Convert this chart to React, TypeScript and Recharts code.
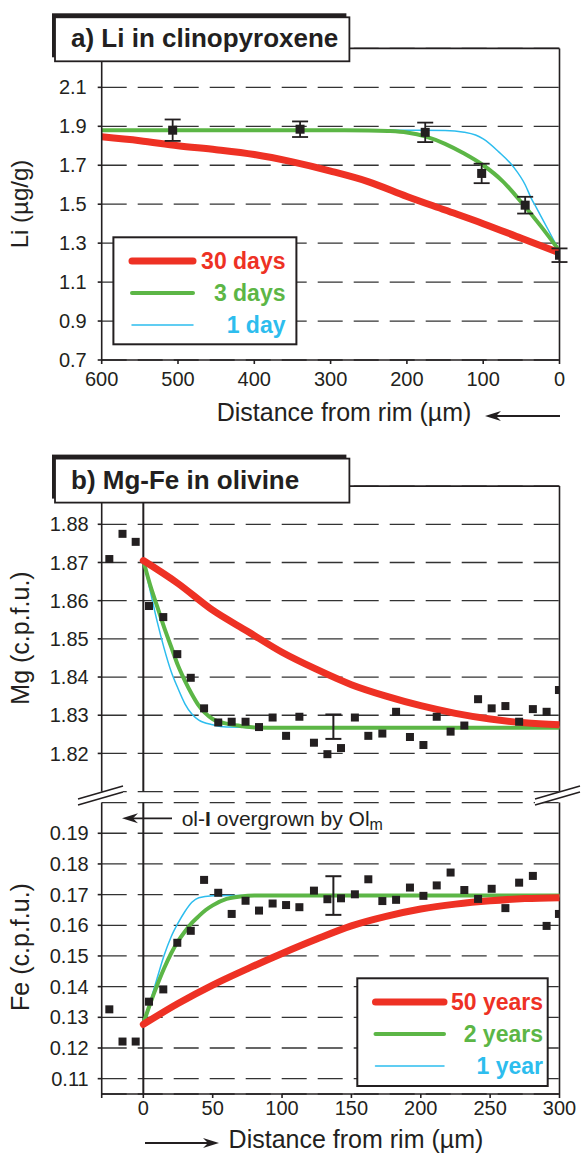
import React from "react";
import { ComposedChart, Line, Scatter, XAxis, YAxis, CartesianGrid, ReferenceLine, ErrorBar } from "recharts";

const INK = "#231f20";
const RED = "#ee3124";
const GREEN = "#5cb646";
const BLUE = "#2dbdee";
const FONT = "'Liberation Sans', Arial, Helvetica, sans-serif";

// ---- a) Li in clinopyroxene ----
const liTicksX = [0, 100, 200, 300, 400, 500, 600];
const liTicksY = [0.7, 0.9, 1.1, 1.3, 1.5, 1.7, 1.9, 2.1];
const liDist = [507, 340, 176, 102, 45, 0];
const liValue = [1.88, 1.885, 1.869, 1.658, 1.495, 1.238];
const liError = [0.055, 0.04, 0.05, 0.05, 0.043, 0.035];

const li30dDist = [600, 550, 500, 450, 400, 350, 300, 250, 200, 150, 100, 50, 0];
const li30dValue = [1.846, 1.826, 1.8, 1.78, 1.755, 1.717, 1.67, 1.615, 1.54, 1.47, 1.4, 1.325, 1.25];
const li3dDist = [600, 500, 400, 300, 250, 225, 200, 175, 150, 125, 100, 75, 50, 25, 0];
const li3dValue = [1.88, 1.88, 1.88, 1.88, 1.879, 1.876, 1.868, 1.847, 1.81, 1.76, 1.7, 1.62, 1.51, 1.39, 1.26];
const li1dDist = [600, 400, 200, 150, 125, 110, 100, 80, 60, 45, 37, 30, 15, 0];
const li1dValue = [1.88, 1.88, 1.88, 1.879, 1.87, 1.855, 1.835, 1.77, 1.69, 1.6, 1.53, 1.48, 1.37, 1.26];

// ---- b) Mg-Fe in olivine ----
const olTicksX = [-30, 0, 50, 100, 150, 200, 250, 300];
const mgTicks = [1.82, 1.83, 1.84, 1.85, 1.86, 1.87, 1.88];
const feTicks = [0.11, 0.12, 0.13, 0.14, 0.15, 0.16, 0.17, 0.18, 0.19];

const olDist = [-24.5, -15, -5.5, 4.1, 14.4, 24.5, 34.2, 43.8, 54, 63.7, 73.7, 83.4, 93.2, 102.9, 112.5, 123, 132.7,
  142.5, 152.5, 162.2, 172.3, 182.2, 192.2, 201.9, 211.5, 221.5, 231.4, 241.3, 251.1, 261, 270.9, 280.8, 290.7, 299.6];
const mgValue = [1.8709, 1.8775, 1.8754, 1.8586, 1.8557, 1.846, 1.8398, 1.8318, 1.8281, 1.8283, 1.8283, 1.8269, 1.8294,
  1.8246, 1.8296, 1.8228, 1.8198, 1.8214, 1.8294, 1.8246, 1.8252, 1.8309, 1.8243, 1.8222, 1.8296, 1.8257, 1.8273,
  1.8342, 1.8318, 1.8324, 1.8283, 1.8316, 1.8309, 1.8366];
const feValue = [0.1326, 0.1221, 0.1221, 0.1351, 0.1391, 0.1543, 0.1582, 0.1748, 0.1706, 0.1637, 0.168, 0.1648, 0.1671,
  0.1666, 0.1659, 0.1713, 0.1685, 0.1688, 0.1701, 0.175, 0.1679, 0.1683, 0.1723, 0.1696, 0.173, 0.1772, 0.1715,
  0.1686, 0.1719, 0.1656, 0.1739, 0.1761, 0.1598, 0.1637];
const mgErrBar = { d: 137, v: 1.827, e: 0.0032 };
const feErrBar = { d: 137, v: 0.1697, e: 0.0063 };

const mg50yDist = [0, 25, 50, 75, 100, 125, 150, 175, 200, 225, 250, 275, 300];
const mg50yValue = [1.8705, 1.8645, 1.8575, 1.852, 1.8465, 1.842, 1.838, 1.835, 1.8325, 1.8305, 1.829, 1.828, 1.8275];
const mg2yDist = [0, 5, 10, 15, 20, 25, 30, 35, 40, 50, 60, 70, 80, 100, 150, 200, 250, 300];
const mg2yValue = [1.8705, 1.864, 1.8585, 1.853, 1.848, 1.843, 1.839, 1.8355, 1.8325, 1.829, 1.8278, 1.8272, 1.8268,
  1.8267, 1.8267, 1.8267, 1.8267, 1.8267];
const mg1yDist = [0, 5, 10, 15, 20, 25, 30, 35, 40, 50, 60, 100, 150, 200, 250, 300];
const mg1yValue = [1.8705, 1.8625, 1.8545, 1.8475, 1.8415, 1.837, 1.833, 1.8303, 1.8287, 1.8275, 1.8269, 1.8267,
  1.8267, 1.8267, 1.8267, 1.8267];

const fe50yDist = [0, 25, 50, 75, 100, 125, 150, 175, 200, 225, 250, 275, 300];
const fe50yValue = [0.1277, 0.1345, 0.1405, 0.1458, 0.1508, 0.1555, 0.1598, 0.1629, 0.1653, 0.1669, 0.168, 0.1687, 0.169];
const fe2yDist = [0, 5, 10, 15, 20, 25, 30, 35, 40, 45, 50, 60, 70, 80, 100, 150, 200, 250, 300];
const fe2yValue = [0.128, 0.1345, 0.1405, 0.146, 0.1508, 0.1548, 0.158, 0.1608, 0.163, 0.165, 0.1665, 0.1686, 0.1694,
  0.1697, 0.1697, 0.1697, 0.1697, 0.1697, 0.1697];
const fe1yDist = [0, 5, 10, 15, 20, 25, 30, 35, 40, 50, 60, 100, 150, 200, 250, 300];
const fe1yValue = [0.128, 0.1352, 0.1428, 0.1502, 0.1562, 0.1607, 0.1645, 0.1675, 0.169, 0.1696, 0.1697, 0.1697,
  0.1697, 0.1697, 0.1697, 0.1697];

const liNames = ["30 days", "3 days", "1 day"];
const olNames = ["50 years", "2 years", "1 year"];
const seriesColors = [RED, GREEN, BLUE];
const seriesWidths = [7, 4, 1.5];

const zip = (xs: number[], ys: number[]) => xs.map((d, i) => ({ d, v: ys[i] }));

const axisStyle = { stroke: INK, strokeWidth: 1.6 };
const tickStyle = { fontSize: 20, fill: INK, fontFamily: FONT };

const square = (size: number) => (p: any) => (
  <rect x={p.cx - size / 2} y={p.cy - size / 2} width={size} height={size} fill={INK} />
);

function curve(data: { d: number; v: number }[], i: number) {
  return (
    <Line
      data={data}
      type="monotone"
      dataKey="v"
      stroke={seriesColors[i]}
      strokeWidth={seriesWidths[i]}
      strokeLinecap="round"
      dot={false}
      activeDot={false}
      isAnimationActive={false}
    />
  );
}

function LegendBox({ x, y, w, h, names, lx1, lx2, tx }: any) {
  return (
    <g>
      <rect x={x} y={y} width={w} height={h} fill="#fff" stroke={INK} strokeWidth={2} />
      {names.map((n: string, i: number) => (
        <g key={n}>
          <line x1={lx1} x2={lx2} y1={y + 23.7 + i * 32} y2={y + 23.7 + i * 32} stroke={seriesColors[i]}
            strokeWidth={seriesWidths[i]} strokeLinecap="round" />
          <text x={tx} y={y + 23.7 + i * 32} dy="0.36em" textAnchor="end" fontWeight="bold" fontSize={23}
            fill={seriesColors[i]}>{n}</text>
        </g>
      ))}
    </g>
  );
}

function TitleBox({ x, y, label }: { x: number; y: number; label: string }) {
  return (
    <g>
      <rect x={x - 3} y={y - 4} width={294.4} height={44} fill={INK} />
      <rect x={x} y={y} width={294.4} height={44} fill="#fff" stroke={INK} strokeWidth={1.8} />
      <text x={x + 16} y={y + 30} fontWeight="bold" fontSize={26} fill={INK}>{label}</text>
    </g>
  );
}

function Arrow({ x1, x2, y }: { x1: number; x2: number; y: number }) {
  // x2 is the tip
  const dir = x2 > x1 ? 1 : -1;
  return (
    <g>
      <line x1={x1} x2={x2 - dir * 8} y1={y} y2={y} stroke={INK} strokeWidth={1.8} />
      <polygon points={`${x2},${y} ${x2 - dir * 16},${y - 5} ${x2 - dir * 11},${y} ${x2 - dir * 16},${y + 5}`} fill={INK} />
    </g>
  );
}

function BreakMark({ x }: { x: number }) {
  return (
    <g>
      <polygon points={`${x},${799} ${x + 45},${786} ${x + 45},${792} ${x},${805}`} fill="#fff" />
      <line x1={x} y1={799} x2={x + 45} y2={786} stroke={INK} strokeWidth={1.5} />
      <line x1={x} y1={805} x2={x + 45} y2={792} stroke={INK} strokeWidth={1.5} />
    </g>
  );
}

const layer: React.CSSProperties = { position: "absolute", left: 0, top: 0 };

export default function App() {
  const liPoints = liDist.map((d, i) => ({ d, v: liValue[i], e: liError[i] }));
  const mgPoints = zip(olDist, mgValue);
  const fePoints = zip(olDist, feValue);

  return (
    <div style={{ position: "absolute", left: 0, top: 0, width: 581, height: 1153, background: "#fff", fontFamily: FONT, overflow: "hidden" }}>
      {/* a) Li */}
      <div style={layer}>
        <ComposedChart width={581} height={440} margin={{ top: 48.4, right: 21.5, bottom: 50, left: 41.7 }}>
          <CartesianGrid vertical={false} stroke="#333" strokeWidth={1.3} strokeDasharray="25 11" />
          <XAxis type="number" dataKey="d" domain={[0, 600]} reversed ticks={liTicksX} height={30} tickSize={4}
            tickMargin={8} axisLine={axisStyle} tickLine={axisStyle} tick={tickStyle} allowDataOverflow />
          <YAxis type="number" domain={[0.7, 2.3]} ticks={liTicksY} width={60} tickSize={4} tickMargin={11}
            axisLine={axisStyle} tickLine={axisStyle} tick={tickStyle} tickFormatter={(v: number) => v.toFixed(1)} allowDataOverflow />
          <ReferenceLine y={2.3} stroke={INK} strokeWidth={1.6} />
          <ReferenceLine x={0} stroke={INK} strokeWidth={1.6} />
          {curve(zip(li1dDist, li1dValue), 2)}
          {curve(zip(li3dDist, li3dValue), 1)}
          {curve(zip(li30dDist, li30dValue), 0)}
          <Scatter data={liPoints} dataKey="v" shape={square(9)} isAnimationActive={false}>
            <ErrorBar dataKey="e" direction="y" width={8} stroke={INK} strokeWidth={1.8} />
          </Scatter>
        </ComposedChart>
      </div>

      {/* b) Mg */}
      <div style={layer}>
        <ComposedChart width={581} height={800} margin={{ top: 486.1, right: 21.5, bottom: 8.4, left: 41.7 }}>
          <CartesianGrid vertical={false} stroke="#333" strokeWidth={1.3} strokeDasharray="25 11" />
          <XAxis type="number" dataKey="d" domain={[-30, 300]} ticks={olTicksX} hide allowDataOverflow />
          <YAxis type="number" domain={[1.81, 1.89]} ticks={mgTicks} width={60} tickSize={4} tickMargin={9}
            axisLine={axisStyle} tickLine={axisStyle} tick={tickStyle} tickFormatter={(v: number) => v.toFixed(2)} allowDataOverflow />
          <ReferenceLine y={1.89} stroke={INK} strokeWidth={1.6} />
          <ReferenceLine x={300} stroke={INK} strokeWidth={1.6} />
          <ReferenceLine x={0} stroke={INK} strokeWidth={2} />
          {curve(zip(mg1yDist, mg1yValue), 2)}
          {curve(zip(mg2yDist, mg2yValue), 1)}
          <Scatter data={mgPoints} dataKey="v" shape={square(8)} isAnimationActive={false} />
          <Scatter data={[mgErrBar]} dataKey="v" shape={() => <g />} isAnimationActive={false}>
            <ErrorBar dataKey="e" direction="y" width={8} stroke={INK} strokeWidth={2} />
          </Scatter>
          {curve(zip(mg50yDist, mg50yValue), 0)}
        </ComposedChart>
      </div>

      {/* b) Fe */}
      <div style={layer}>
        <ComposedChart width={581} height={1153} margin={{ top: 802.6, right: 21.5, bottom: 29, left: 41.7 }}>
          <CartesianGrid vertical={false} stroke="#333" strokeWidth={1.3} strokeDasharray="25 11" />
          <XAxis type="number" dataKey="d" domain={[-30, 300]} ticks={olTicksX} height={30} tickSize={4}
            tickMargin={3} axisLine={axisStyle} tickLine={axisStyle} tick={tickStyle}
            tickFormatter={(v: number) => (v < 0 ? "" : String(v))} allowDataOverflow />
          <YAxis type="number" domain={[0.105, 0.2]} ticks={feTicks} width={60} tickSize={4} tickMargin={9}
            axisLine={axisStyle} tickLine={axisStyle} tick={tickStyle} tickFormatter={(v: number) => v.toFixed(2)} allowDataOverflow />
          <ReferenceLine x={300} stroke={INK} strokeWidth={1.6} />
          <ReferenceLine x={0} stroke={INK} strokeWidth={2} />
          {curve(zip(fe1yDist, fe1yValue), 2)}
          {curve(zip(fe2yDist, fe2yValue), 1)}
          <Scatter data={fePoints} dataKey="v" shape={square(8)} isAnimationActive={false} />
          <Scatter data={[feErrBar]} dataKey="v" shape={() => <g />} isAnimationActive={false}>
            <ErrorBar dataKey="e" direction="y" width={8} stroke={INK} strokeWidth={2} />
          </Scatter>
          {curve(zip(fe50yDist, fe50yValue), 0)}
        </ComposedChart>
      </div>

      {/* annotations */}
      <svg width={581} height={1153} style={{ ...layer, pointerEvents: "none" }} fontFamily={FONT}>
        <TitleBox x={55} y={17.3} label="a) Li in clinopyroxene" />
        <TitleBox x={55} y={458.6} label="b) Mg-Fe in olivine" />

        <LegendBox x={113.4} y={237.3} w={183} h={107} names={liNames} lx1={132} lx2={193} tx={285.5} />
        <LegendBox x={357.3} y={978.3} w={190.4} h={107.7} names={olNames} lx1={375.5} lx2={444} tx={543} />

        <text x={28} y={204} transform="rotate(-90 28 204)" textAnchor="middle" fontSize={24} fill={INK}>Li (µg/g)</text>
        <text x={29} y={638} transform="rotate(-90 29 638)" textAnchor="middle" fontSize={25} fill={INK}>Mg (c.p.f.u.)</text>
        <text x={29} y={947} transform="rotate(-90 29 947)" textAnchor="middle" fontSize={25} fill={INK}>Fe (c.p.f.u.)</text>

        <text x={216.7} y={420.5} fontSize={25} fill={INK}>Distance from rim (µm)</text>
        <Arrow x1={560} x2={485} y={416} />
        <text x={228.6} y={1148} fontSize={25} fill={INK}>Distance from rim (µm)</text>
        <Arrow x1={145} x2={219} y={1143} />

        <BreakMark x={78} />
        <BreakMark x={535} />

        <Arrow x1={172} x2={122} y={818.3} />
        <text x={181.7} y={826} fontSize={21} fill={INK}>
          ol-<tspan fontWeight="bold">I</tspan> overgrown by Ol<tspan fontSize={16} dy={4}>m</tspan>
        </text>
      </svg>
    </div>
  );
}
